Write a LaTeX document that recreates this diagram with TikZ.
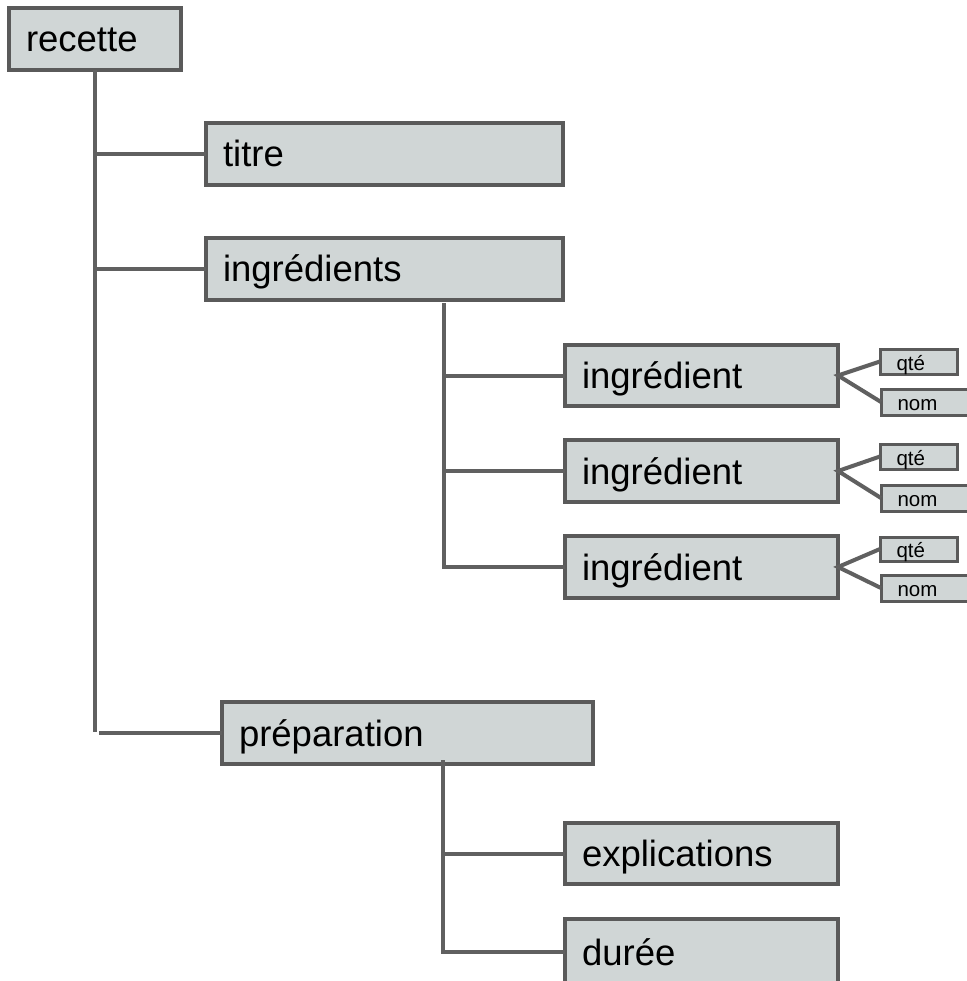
\documentclass[tikz,border=0pt]{standalone}
\usepackage{fontspec}
\setmainfont{Liberation Sans}
\definecolor{boxfill}{RGB}{208,214,214}
\definecolor{boxline}{RGB}{90,90,90}
\definecolor{conn}{RGB}{96,96,96}
\begin{document}
\begin{tikzpicture}[x=1pt,y=-1pt,
  bigbox/.style={draw=boxline, fill=boxfill, line width=3.5pt, rectangle,
    anchor=north west, outer sep=0pt, inner xsep=17pt, inner ysep=0pt, align=left,
    text height=26pt, text depth=0pt, font=\fontsize{36.5}{40}\selectfont},
  smallbox/.style={draw=boxline, fill=boxfill, line width=3pt, rectangle,
    anchor=north west, outer sep=0pt, inner xsep=16.5pt, inner ysep=0pt, align=left,
    text height=17pt, text depth=0pt, font=\fontsize{20.5}{23}\selectfont},
  link/.style={draw=conn, line width=4pt}]
\useasboundingbox (0,0) rectangle (966,981);

\node[bigbox, minimum width=172pt, text width=138pt, minimum height=62pt] (recette) at (9,8) {recette};
\node[bigbox, minimum width=357pt, text width=323pt, minimum height=62pt] (titre) at (206,123) {titre};
\node[bigbox, minimum width=357pt, text width=323pt, minimum height=62pt] (ings) at (206,238) {ingrédients};
\node[bigbox, minimum width=273pt, text width=239pt, minimum height=61pt] (ing1) at (565,345) {ingrédient};
\node[bigbox, minimum width=273pt, text width=239pt, minimum height=62pt] (ing2) at (565,440) {ingrédient};
\node[bigbox, minimum width=273pt, text width=239pt, minimum height=62pt] (ing3) at (565,536) {ingrédient};
\node[bigbox, minimum width=371pt, text width=337pt, minimum height=62pt] (prep) at (222,702) {préparation};
\node[bigbox, minimum width=273pt, text width=239pt, minimum height=61pt] (expl) at (565,823) {explications};
\node[bigbox, minimum width=273pt, text width=239pt, minimum height=66pt] (duree) at (565,919) {durée};

\node[smallbox, minimum width=77pt, text width=44pt, minimum height=25pt] (qte1) at (880,349) {qté};
\node[smallbox, minimum width=87pt, text width=54pt, minimum height=26pt] (nom1) at (881,389) {nom};
\node[smallbox, minimum width=77pt, text width=44pt, minimum height=25pt] (qte2) at (880,444) {qté};
\node[smallbox, minimum width=87pt, text width=54pt, minimum height=26pt] (nom2) at (881,485) {nom};
\node[smallbox, minimum width=77pt, text width=44pt, minimum height=24pt] (qte3) at (880,537) {qté};
\node[smallbox, minimum width=87pt, text width=54pt, minimum height=26pt] (nom3) at (881,575) {nom};

\coordinate (trunkend) at (95,732);
\coordinate (pj) at (99,733);
\coordinate (ingtop) at (444,303);
\coordinate (preptop) at (443,760);

\draw[link] (recette.south) -- (trunkend);
\draw[link] (titre.west) -- (titre.west -| recette.south);
\draw[link] (ings.west) -- (ings.west -| recette.south);
\draw[link] (pj) -- (prep.west);

\draw[link] (ingtop) |- (ing3.west);
\draw[link] (ing1.west) -- (ing1.west -| ingtop);
\draw[link] (ing2.west) -- (ing2.west -| ingtop);

\draw[link] (preptop) |- (duree.west);
\draw[link] (expl.west) -- (expl.west -| preptop);

\draw[link] (qte1.west) -- (ing1.east) -- (nom1.west);
\draw[link] (qte2.west) -- (ing2.east) -- (nom2.west);
\draw[link] (qte3.west) -- (ing3.east) -- (nom3.west);
\end{tikzpicture}
\end{document}
